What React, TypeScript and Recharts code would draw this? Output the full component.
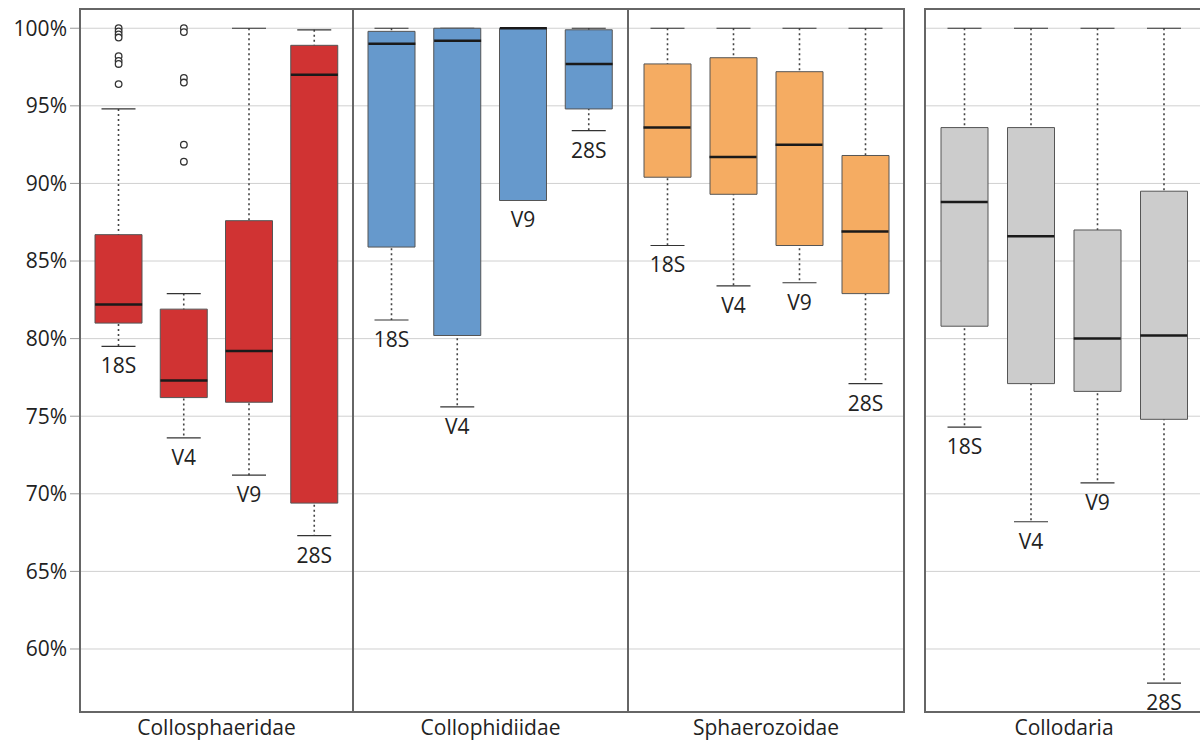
import React from 'react'
import { ComposedChart, Bar, Scatter, XAxis, YAxis, CartesianGrid, LabelList } from 'recharts'

const markers = ['18S', 'V4', 'V9', '28S']
const families = ['Collosphaeridae', 'Collophidiidae', 'Sphaerozoidae', 'Collodaria']
const colors = ['#d03333', '#6699cc', '#f5ac62', '#cccccc']

// per family, one value per marker (18S, V4, V9, 28S)
const whiskerLow = [
  [79.5, 73.6, 71.2, 67.3],
  [81.2, 75.6, 88.9, 93.4],
  [86.0, 83.4, 83.6, 77.1],
  [74.3, 68.2, 70.7, 57.8],
]
const boxLow = [
  [81.0, 76.2, 75.9, 69.4],
  [85.9, 80.2, 88.9, 94.8],
  [90.4, 89.3, 86.0, 82.9],
  [80.8, 77.1, 76.6, 74.8],
]
const medians = [
  [82.2, 77.3, 79.2, 97.0],
  [99.0, 99.2, 100.0, 97.7],
  [93.6, 91.7, 92.5, 86.9],
  [88.8, 86.6, 80.0, 80.2],
]
const boxHigh = [
  [86.7, 81.9, 87.6, 98.9],
  [99.8, 100, 100, 99.9],
  [97.7, 98.1, 97.2, 91.8],
  [93.6, 93.6, 87.0, 89.5],
]
const whiskerHigh = [
  [94.8, 82.9, 100, 99.9],
  [100, 100, 100, 100],
  [100, 100, 100, 100],
  [100, 100, 100, 100],
]
// outliers only in Collosphaeridae
const outliers18S = [100, 99.8, 99.6, 99.4, 98.2, 97.9, 97.7, 96.4]
const outliersV4 = [100, 99.75, 96.8, 96.5, 92.5, 91.4]

const yTicks = [60, 65, 70, 75, 80, 85, 90, 95, 100]
const yDomain = [55.94, 101.24]

const H = 742
const TOP = 9
const XH = 30
const panels = [
  { left: 0, width: 353, axisW: 80 },
  { left: 353, width: 275, axisW: 0 },
  { left: 628, width: 276, axisW: 0 },
  { left: 925, width: 278, axisW: 0 },
]

const Whisker = (props: any) => {
  const { x, y, width, height } = props
  const top = Math.min(y, y + height)
  const bot = Math.max(y, y + height)
  const cx = x + width / 2
  return (
    <g>
      <line x1={cx} x2={cx} y1={top} y2={bot} stroke="#444" strokeWidth={1.6} strokeDasharray="2 3" />
      <line x1={cx - 17} x2={cx + 17} y1={top} y2={top} stroke="#333" strokeWidth={1.2} />
      <line x1={cx - 17} x2={cx + 17} y1={bot} y2={bot} stroke="#333" strokeWidth={1.2} />
    </g>
  )
}

const MedianLine = (props: any) => {
  const { cx, cy } = props
  return <line x1={cx - 23.5} x2={cx + 23.5} y1={cy} y2={cy} stroke="#1a1a1a" strokeWidth={2.5} />
}

const Outlier = (props: any) => {
  const { cx, cy } = props
  return <circle cx={cx} cy={cy} r={3.3} fill="#fff" stroke="#333" strokeWidth={1.3} />
}

const GroupLabel = ({ viewBox, name }: any) => {
  const { x, y, width, height } = viewBox
  return (
    <text x={x + width / 2} y={y + height - 7} textAnchor="middle" fontSize={21} fill="#222">
      {name}
    </text>
  )
}

const Panel = ({ g }: { g: number }) => {
  const p = panels[g]
  const rows = markers.map((m, i) => ({
    marker: m,
    whisker: [whiskerLow[g][i], whiskerHigh[g][i]],
    box: [boxLow[g][i], boxHigh[g][i]],
    median: medians[g][i],
  }))
  const outs =
    g === 0
      ? [
          ...outliers18S.map((v) => ({ marker: '18S', value: v })),
          ...outliersV4.map((v) => ({ marker: 'V4', value: v })),
        ]
      : []
  return (
    <div style={{ position: 'absolute', left: p.left, top: 0 }}>
      <ComposedChart width={p.width} height={H} data={rows} margin={{ top: TOP, right: 0, left: 0, bottom: 0 }}>
        <CartesianGrid vertical={false} stroke="#d0d0d0" strokeWidth={1} />
        <XAxis
          xAxisId="b"
          dataKey="marker"
          type="category"
          allowDuplicatedCategory={false}
          padding={{ left: 6, right: 6 }}
          height={XH}
          tick={false}
          tickLine={false}
          axisLine={false}
          label={(props: any) => <GroupLabel {...props} name={families[g]} />}
        />
        <XAxis xAxisId="w" dataKey="marker" type="category" padding={{ left: 6, right: 6 }} hide />
        {p.axisW > 0 ? (
          <YAxis
            domain={yDomain}
            ticks={yTicks}
            allowDataOverflow
            width={p.axisW}
            axisLine={false}
            tickSize={10}
            tickMargin={3}
            tickLine={{ stroke: '#999' }}
            tick={{ fill: '#222', fontSize: 21 }}
            tickFormatter={(v) => `${v}%`}
          />
        ) : (
          <YAxis domain={yDomain} ticks={yTicks} allowDataOverflow hide />
        )}
        <Bar xAxisId="w" dataKey="whisker" barSize={47} shape={<Whisker />} isAnimationActive={false}>
          <LabelList dataKey="marker" position="bottom" offset={12} fill="#222" fontSize={21} />
        </Bar>
        <Bar
          xAxisId="b"
          dataKey="box"
          barSize={47}
          fill={colors[g]}
          stroke="#555"
          strokeWidth={1}
          isAnimationActive={false}
        />
        <Scatter xAxisId="b" dataKey="median" shape={<MedianLine />} isAnimationActive={false} />
        {outs.length > 0 && (
          <Scatter xAxisId="b" data={outs} dataKey="value" shape={<Outlier />} isAnimationActive={false} />
        )}
      </ComposedChart>
      <div
        style={{
          position: 'absolute',
          left: p.axisW - 1,
          top: TOP - 1,
          width: p.width - p.axisW + 2,
          height: H - TOP - XH + 2,
          border: '2px solid #666',
          boxSizing: 'border-box',
          pointerEvents: 'none',
        }}
      />
    </div>
  )
}

export default function App() {
  return (
    <div
      style={{
        position: 'absolute',
        left: 0,
        top: 0,
        width: 1200,
        height: H,
        overflow: 'hidden',
        background: '#fff',
        fontFamily: "'Open Sans', sans-serif",
      }}
    >
      {families.map((f, g) => (
        <Panel key={f} g={g} />
      ))}
    </div>
  )
}
